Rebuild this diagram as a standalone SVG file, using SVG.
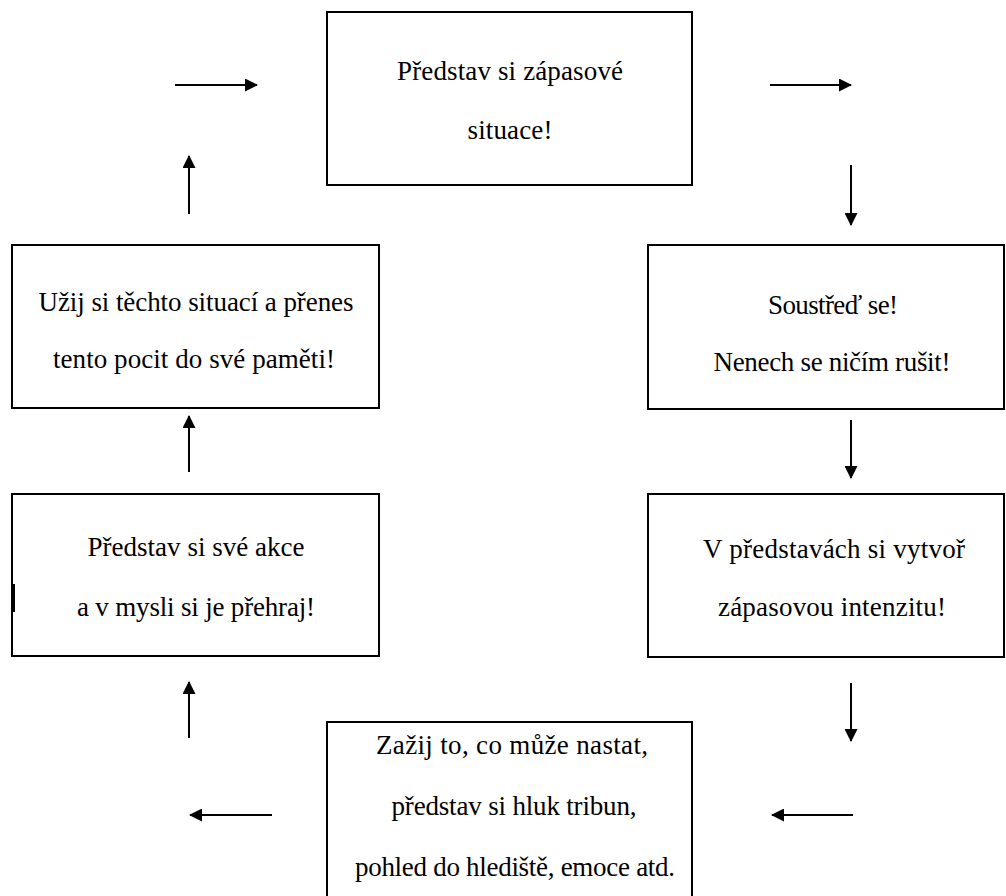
<svg xmlns="http://www.w3.org/2000/svg" width="1006" height="896" viewBox="0 0 1006 896">
<style>
.box{fill:#fff;stroke:#000;stroke-width:2}
.t{font-family:"Liberation Serif","Times New Roman",serif;font-size:27px;fill:#000;text-anchor:middle}
.c{stroke:#000;stroke-width:2;fill:none}
</style>
<defs>
<marker id="ah" viewBox="0 0 13 13" refX="12" refY="6.5" markerWidth="13" markerHeight="13" markerUnits="userSpaceOnUse" orient="auto">
<path d="M0,0 L13,6.5 L0,13 Z" fill="#000"/>
</marker>
</defs>
<rect width="1006" height="896" fill="#fff"/>
<g id="n1">
<rect class="box" x="327" y="12" width="365" height="173"/>
<text class="t" x="510" y="80" textLength="226">Představ si zápasové</text>
<text class="t" x="510" y="139" textLength="85">situace!</text>
</g>
<g id="n2">
<rect class="box" x="648" y="245" width="356" height="164"/>
<text class="t" x="833" y="314" textLength="130">Soustřeď se!</text>
<text class="t" x="832" y="371" textLength="237">Nenech se ničím rušit!</text>
</g>
<g id="n3">
<rect class="box" x="648" y="494" width="356" height="163"/>
<text class="t" x="834" y="558" textLength="262">V představách si vytvoř</text>
<text class="t" x="832" y="616" textLength="228">zápasovou intenzitu!</text>
</g>
<g id="n4">
<rect class="box" x="327" y="722" width="365" height="190"/>
<text class="t" x="512" y="754" textLength="272">Zažij to, co může nastat,</text>
<text class="t" x="514" y="815" textLength="245">představ si hluk tribun,</text>
<text class="t" x="515" y="876" textLength="320">pohled do hlediště, emoce atd.</text>
</g>
<g id="n5">
<rect class="box" x="12" y="494" width="367" height="162"/>
<line x1="14" y1="584" x2="14" y2="612" stroke="#000" stroke-width="2"/>
<text class="t" x="196" y="556" textLength="217">Představ si své akce</text>
<text class="t" x="196" y="616" textLength="238">a v mysli si je přehraj!</text>
</g>
<g id="n6">
<rect class="box" x="12" y="245" width="367" height="163"/>
<text class="t" x="196" y="311" textLength="315">Užij si těchto situací a přenes</text>
<text class="t" x="194" y="368" textLength="282">tento pocit do své paměti!</text>
</g>
<g id="connectors">
<line class="c" x1="175" y1="85" x2="257" y2="85" marker-end="url(#ah)"/>
<line class="c" x1="770" y1="85" x2="851" y2="85" marker-end="url(#ah)"/>
<line class="c" x1="851" y1="165" x2="851" y2="225" marker-end="url(#ah)"/>
<line class="c" x1="851" y1="420" x2="851" y2="478" marker-end="url(#ah)"/>
<line class="c" x1="851" y1="683" x2="851" y2="741" marker-end="url(#ah)"/>
<line class="c" x1="853" y1="815" x2="772" y2="815" marker-end="url(#ah)"/>
<line class="c" x1="272" y1="815" x2="190" y2="815" marker-end="url(#ah)"/>
<line class="c" x1="189" y1="738" x2="189" y2="682" marker-end="url(#ah)"/>
<line class="c" x1="189" y1="472" x2="189" y2="416" marker-end="url(#ah)"/>
<line class="c" x1="189" y1="214" x2="189" y2="156" marker-end="url(#ah)"/>
</g>
</svg>
